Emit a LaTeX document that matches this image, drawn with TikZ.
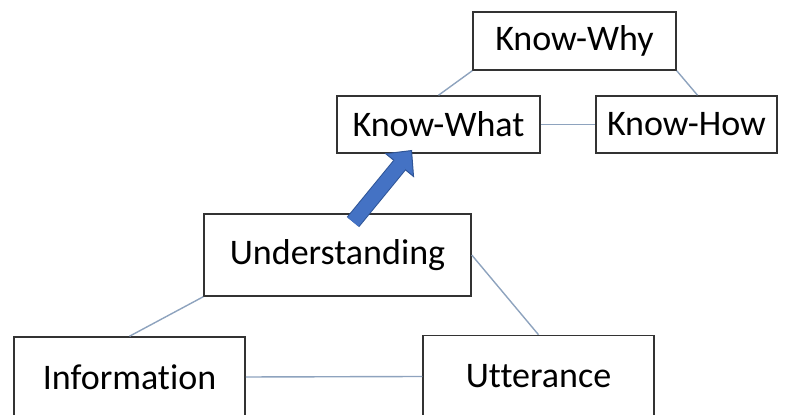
\documentclass[tikz,border=0pt]{standalone}
\usepackage{fontspec}
\setmainfont{Carlito}[Ligatures=NoCommon]
\usetikzlibrary{arrows.meta}
\definecolor{linkgray}{HTML}{8EA3BE}
\definecolor{arrowblue}{HTML}{4472C4}
\definecolor{arrowedge}{HTML}{2F5597}
\begin{document}
\begin{tikzpicture}[x=0.5pt,y=-0.5pt,
    box/.style={draw=black!80,line width=0.75pt,fill=white,inner sep=0pt,font=\fontsize{18}{22}\selectfont},
    link/.style={draw=linkgray,line width=0.7pt}]
    \useasboundingbox (0,0) rectangle (787,415);
    \clip (0,0) rectangle (787,415);
    \node[box,minimum width=101.5pt,minimum height=29pt] (why) at (574.5,41) {Know-Why};
    \node[box,minimum width=101.5pt,minimum height=28.5pt] (what) at (438.5,124.5) {Know-What};
    \node[box,minimum width=90.5pt,minimum height=28.5pt] (how) at (686.5,124.5) {Know-How};
    \node[box,minimum width=133.5pt,minimum height=41pt] (under) at (337.5,255) {Understanding};
    \node[box,minimum width=115.5pt,minimum height=40pt] (info) at (129.5,377) {Information};
    \node[box,minimum width=115.5pt,minimum height=41pt] (utter) at (538.5,376.5) {Utterance};
    \draw[link] (why.south west) -- (what.north);
    \draw[link] (why.south east) -- ([xshift=5.5pt]how.north);
    \draw[link] (what.east) -- (how.west);
    \draw[link] (under.south west) -- (info.north);
    \draw[link] (under.east) -- (utter.north);
    \draw[link] (info.east) -- (utter.west);
    \coordinate (upfoot) at (353,222);
    \coordinate (uptip) at (412,150);
    \draw[draw=arrowedge,line width=8pt,-{Triangle[length=10pt,width=19pt,fill=arrowblue,line width=0.5pt]}] (upfoot) -- (uptip);
    \draw[arrowblue,line width=7pt,shorten >=9pt] (upfoot) -- (uptip);
\end{tikzpicture}
\end{document}
